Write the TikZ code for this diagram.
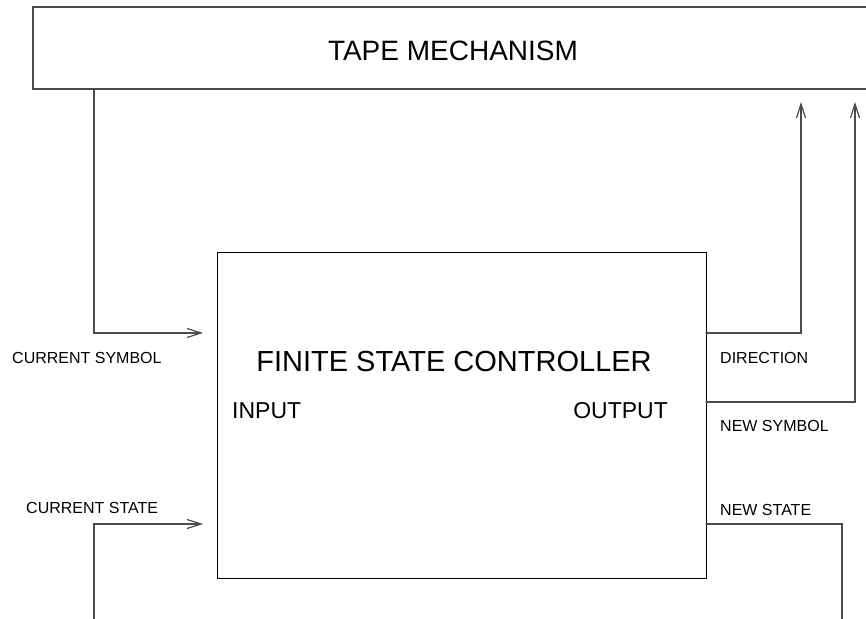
\documentclass[tikz,border=0pt]{standalone}
\usepackage{fontspec}
\setmainfont{Liberation Sans}
\usetikzlibrary{arrows.meta}

\begin{document}
\begin{tikzpicture}[x=1pt,y=-1pt,line cap=round,
  link/.style={draw=black!70,line width=1.2pt},
  tip/.style={-{Straight Barb[length=14pt,width=9pt]}},
  sig/.style={font=\fontsize{16}{18}\selectfont,anchor=west,inner sep=0pt},
  port/.style={font=\fontsize{23}{26}\selectfont,inner sep=0pt},
  title/.style={font=\fontsize{29}{32}\selectfont,inner sep=0pt}]
  % tape on top, controller below, the signals run round both sides of it
  \useasboundingbox (0,0) rectangle (866,618);
  \node[link,outer sep=0pt,minimum width=840pt,minimum height=82pt] (tape) at (453,48) {};
  \node[font=\fontsize{28}{32}\selectfont,inner sep=0pt] (tapename) at (453,51) {TAPE MECHANISM};
  \node[draw=black,line width=0.8pt,outer sep=0pt,minimum width=489pt,minimum height=326pt] (fsc) at (461.5,415) {};
  \node[title] (fscname) at (454,362) {FINITE STATE CONTROLLER};
  \node[port,anchor=west] (input) at (232,411) {INPUT};
  \node[port,anchor=east] (output) at (668,411) {OUTPUT};
  % signal names
  \node[sig] (cursym) at (12,358) {CURRENT SYMBOL};
  \node[sig] (curstate) at (26,508) {CURRENT STATE};
  \node[sig] (dir) at (720,358) {DIRECTION};
  \node[sig] (newsym) at (720,426) {NEW SYMBOL};
  \node[sig] (newstate) at (720,510) {NEW STATE};
  % free ends and bends
  \coordinate (symin) at (203,333);
  \coordinate (statein) at (203,524);
  \coordinate (dirtip) at (801,102);
  \coordinate (newtip) at (855,102);
  \coordinate (newbend) at (855,402);
  \coordinate (statefoot) at (94,620);
  \coordinate (newfoot) at (842,620);
  \draw[link,tip] (tape.south -| statefoot) |- (symin);
  \draw[link,tip] (statefoot) |- (statein);
  \draw[link,tip] (fsc.east |- symin) -| (dirtip);
  \draw[link,tip] (fsc.east |- newbend) -| (newtip);
  \draw[link] (fsc.east |- statein) -| (newfoot);
\end{tikzpicture}
\end{document}
